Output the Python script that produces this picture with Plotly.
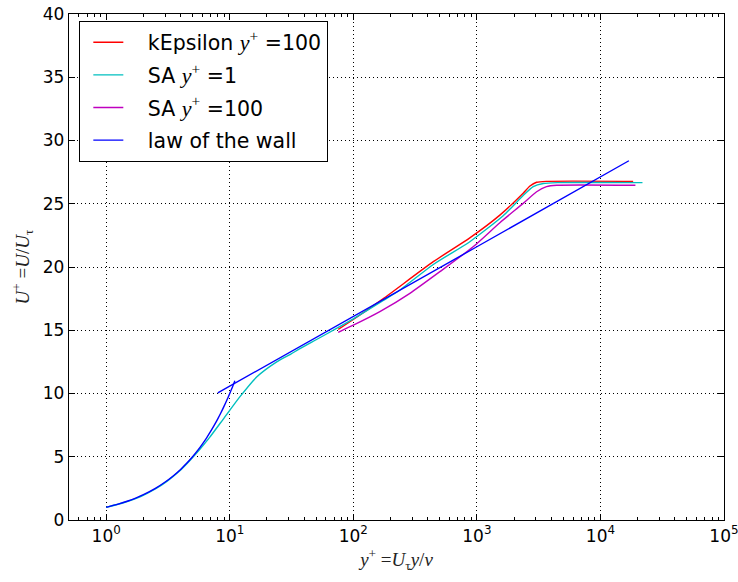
import plotly.graph_objects as go

# --- data ---
ke_x = [75.5, 100, 175, 444, 877, 1535, 2370, 2690, 3045, 3660, 18400]
ke_y = [15.07, 15.85, 17.5, 20.42, 22.3, 24.1, 25.83, 26.4, 26.7, 26.77, 26.77]

sa1_x = [1, 1.4, 1.9, 2.5, 3.1, 3.9, 4.8, 5.8, 6.9, 8.9, 12.1, 16.5, 24, 31, 37, 50, 75, 100, 175, 240, 444, 877, 1633, 2370, 2860, 3440, 4500, 21900]
sa1_y = [1, 1.38, 1.85, 2.45, 3.05, 3.85, 4.75, 5.65, 6.55, 8.0, 9.75, 11.3, 12.5, 13.1, 13.55, 14.25, 15.2, 15.9, 17.35, 18.2, 20.2, 22.0, 24.05, 25.65, 26.35, 26.6, 26.67, 26.67]

sa100_x = [75.5, 100, 164, 287, 502, 933, 1535, 2370, 3045, 3660, 4430, 19200]
sa100_y = [14.84, 15.4, 16.47, 17.92, 19.63, 21.6, 23.5, 25.03, 25.95, 26.35, 26.46, 26.46]

wall_visc_x = [1, 1.25, 1.5, 1.75, 2, 2.5, 3, 3.5, 4, 4.5, 5, 5.5, 6, 6.5, 7, 7.5, 8, 8.5, 9, 9.5, 10, 10.5, 11]
wall_visc_y = [1, 1.25, 1.5, 1.75, 2, 2.5, 3, 3.5, 4, 4.5, 5, 5.5, 6, 6.5, 7, 7.5, 8, 8.5, 9, 9.5, 10, 10.5, 11]
wall_log_x = [8, 1000, 17000]
wall_log_y = [10.05, 21.6, 28.4]

x_tickvals = [1, 10, 100, 1000, 10000, 100000]
x_ticktext = ["10<sup>0</sup>", "10<sup>1</sup>", "10<sup>2</sup>", "10<sup>3</sup>", "10<sup>4</sup>", "10<sup>5</sup>"]
x_minor = [m * 10 ** e for e in range(-1, 5) for m in range(2, 10) if 0.5 <= m * 10 ** e <= 100000]
y_tickvals = [0, 5, 10, 15, 20, 25, 30, 35, 40]

SERIF = "Liberation Serif"
YP = ("<span style='font-family:%s;font-size:22px'><i>y</i><sup>+</sup></span>" % SERIF)
PAD = "\u00a0\u00a0\u00a0"

fig = go.Figure()
fig.add_trace(go.Scatter(x=ke_x, y=ke_y, mode="lines", name=PAD + "kEpsilon " + YP + "\u00a0=100",
                         legendgroup="a",
                         line=dict(color="#ff0000", width=1.4, shape="spline", smoothing=0.6)))
fig.add_trace(go.Scatter(x=sa1_x, y=sa1_y, mode="lines", name=PAD + "SA " + YP + "\u00a0=1",
                         legendgroup="b",
                         line=dict(color="#00bfbf", width=1.4, shape="spline", smoothing=0.6)))
fig.add_trace(go.Scatter(x=sa100_x, y=sa100_y, mode="lines", name=PAD + "SA " + YP + "\u00a0=100",
                         legendgroup="c",
                         line=dict(color="#bf00bf", width=1.4, shape="spline", smoothing=0.6)))
fig.add_trace(go.Scatter(x=wall_visc_x + [None] + wall_log_x, y=wall_visc_y + [None] + wall_log_y,
                         mode="lines", name=PAD + "law of the wall", connectgaps=False,
                         legendgroup="d",
                         line=dict(color="#0000ff", width=1.4, shape="spline", smoothing=0.6)))

axis_common = dict(
    showline=True, linecolor="black", linewidth=1.3, mirror="ticks",
    ticks="inside", ticklen=6, tickwidth=1, tickcolor="black",
    showgrid=True, gridcolor="black", gridwidth=1, griddash="1px,3px",
    zeroline=False, automargin=False,
    tickfont=dict(family="DejaVu Sans", size=17, color="black"),
)

fig.update_xaxes(
    type="log", range=[-0.30103, 5.0002], tickmode="array", tickvals=x_tickvals, ticktext=x_ticktext,
    ticklabeloverflow="allow",
    minor=dict(tickmode="array", tickvals=x_minor, ticks="inside", ticklen=3, tickwidth=1,
               tickcolor="black", showgrid=False),
    title=dict(text="<i>y</i><sup>+</sup> =<i>U</i><sub>τ</sub><i>y</i>/<i>ν</i>",
               font=dict(family=SERIF, size=19, color="#222"), standoff=8),
    **axis_common,
)
fig.update_yaxes(
    range=[0, 40], tickmode="array", tickvals=y_tickvals,
    title=dict(text="<i>U</i><sup>+</sup> =<i>U</i>/<i>U</i><sub>τ</sub>",
               font=dict(family=SERIF, size=19, color="#222"), standoff=8),
    **axis_common,
)

fig.update_layout(
    width=738, height=582,
    margin=dict(l=69, r=14, t=14, b=62),
    paper_bgcolor="white", plot_bgcolor="white",
    showlegend=True,
    legend=dict(x=0.0153, y=0.986, xanchor="left", yanchor="top",
                bordercolor="black", borderwidth=1.3, bgcolor="white",
                font=dict(family="DejaVu Sans", size=20.5, color="black"),
                indentation=8, tracegroupgap=3),
)

fig.write_html("out.html")
